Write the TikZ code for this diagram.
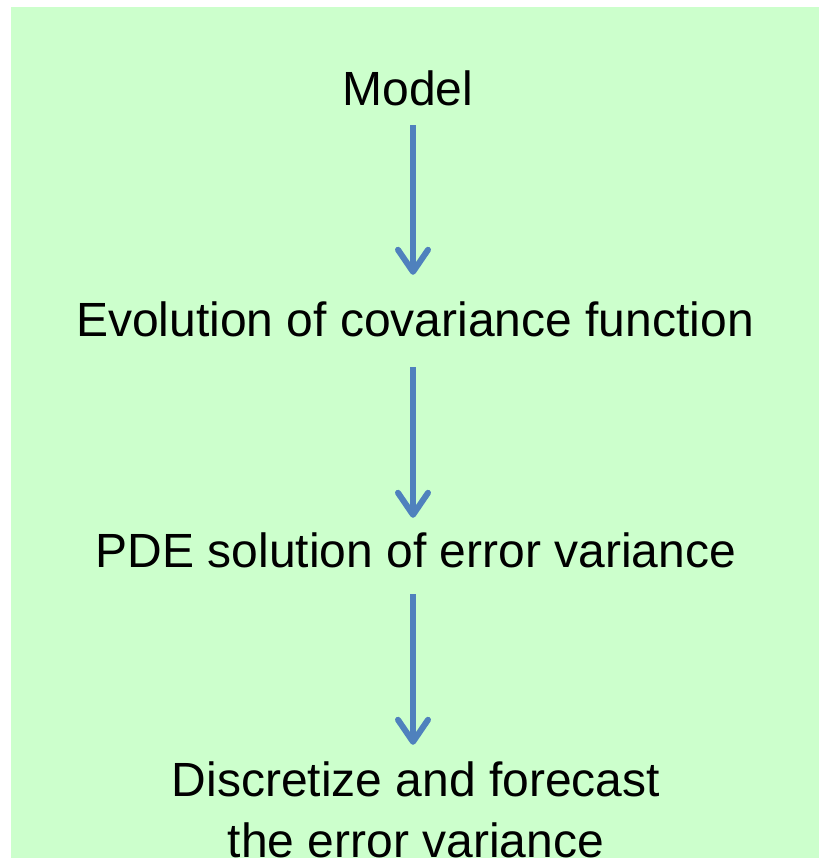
\documentclass[tikz,border=0pt]{standalone}
\usepackage{fontspec}
\setmainfont{Liberation Sans}
\usetikzlibrary{arrows.meta,calc}
\definecolor{bggreen}{HTML}{CCFFCC}
\definecolor{arrblue}{HTML}{4F81BD}
\tikzset{
  lbl/.style={anchor=base, inner sep=0pt, text height=36pt, text depth=10pt,
    font=\fontsize{48pt}{61pt}\selectfont, text=black},
  flowarrow/.style={draw=arrblue, line width=6pt,
    -{Straight Barb[length=22pt,width=30pt,round]}}
}
\begin{document}
\begin{tikzpicture}[x=1pt,y=-1pt]
\useasboundingbox (0,0) rectangle (819,858);
\fill[white] (0,0) rectangle (819,858);
\fill[bggreen] (11,7) rectangle (819,858);
\coordinate (axis) at (413,0);
\node[lbl] (model) at (408,106) {Model};
\node[lbl] (evol) at (415,336) {Evolution of covariance function};
\node[lbl] (pde) at (416,567) {PDE solution of error variance};
\node[lbl] (disc) at (416,796) {Discretize and forecast};
\node[lbl] (disc2) at (416,857) {the error variance};
\draw[flowarrow, shorten <=9pt, shorten >=25pt] (axis |- model.south) -- (axis |- evol.north);
\draw[flowarrow, shorten <=21pt, shorten >=13pt] (axis |- evol.south) -- (axis |- pde.north);
\draw[flowarrow, shorten <=17pt, shorten >=15pt] (axis |- pde.south) -- (axis |- disc.north);
\end{tikzpicture}
\end{document}
